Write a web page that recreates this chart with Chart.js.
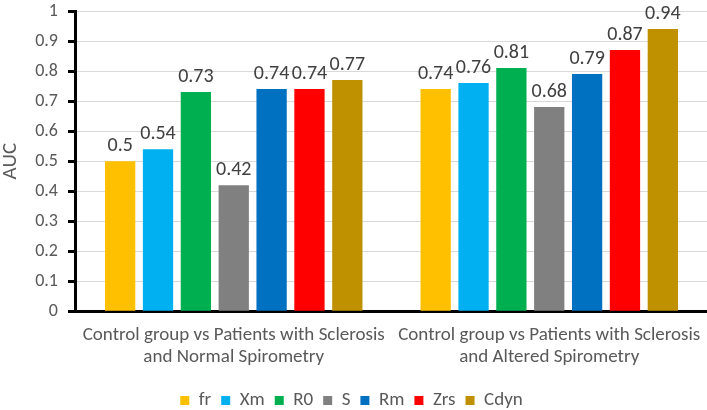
<!DOCTYPE html>
<html>
<head>
<meta charset="utf-8">
<script src="https://cdn.jsdelivr.net/npm/chart.js@4"></script>
<style>
  html, body { margin: 0; padding: 0; background: #fff; }
  #wrap { width: 707px; height: 410px; }
</style>
</head>
<body>
<div id="wrap"><canvas id="auc"></canvas></div>
<script>
const categories = [
  ['Control group vs Patients with Sclerosis', 'and Normal Spirometry'],
  ['Control group vs Patients with Sclerosis', 'and Altered Spirometry']
]
const seriesNames = ['fr', 'Xm', 'R0', 'S', 'Rm', 'Zrs', 'Cdyn']
const fr = [0.5, 0.74]
const xm = [0.54, 0.76]
const r0 = [0.73, 0.81]
const s = [0.42, 0.68]
const rm = [0.74, 0.79]
const zrs = [0.74, 0.87]
const cdyn = [0.77, 0.94]
const seriesColors = ['#FFC000', '#00B0F0', '#00B050', '#808080', '#0070C0', '#FF0000', '#BF9000']

const textGray = '#595959'
const fontes = 'Carlito, Calibri, Lato, sans-serif'

// writes the value above each bar
const valueLabels = {
  id: 'valueLabels',
  afterDatasetsDraw(chart) {
    const ctx = chart.ctx
    ctx.save()
    ctx.fillStyle = '#404040'
    ctx.font = '20px ' + fontes
    ctx.textAlign = 'center'
    ctx.textBaseline = 'bottom'
    chart.data.datasets.forEach((ds, i) => {
      chart.getDatasetMeta(i).data.forEach((bar, j) => {
        ctx.fillText(String(ds.data[j]), bar.x, bar.y - 5)
      })
    })
    ctx.restore()
  }
}

const allSeries = [fr, xm, r0, s, rm, zrs, cdyn]

new Chart(document.getElementById('auc').getContext('2d'), {
  type: 'bar',
  data: {
    labels: categories,
    datasets: allSeries.map((vals, i) => ({
      label: seriesNames[i],
      data: vals,
      backgroundColor: seriesColors[i],
      categoryPercentage: 0.84,
      barPercentage: 0.8
    }))
  },
  options: {
    responsive: true,
    maintainAspectRatio: false,
    animation: false,
    layout: { padding: { top: 0, right: 0, left: -4, bottom: -10 } },
    scales: {
      x: {
        grid: { display: false, drawTicks: false },
        border: { color: '#000', width: 3 },
        // long labels may hang past the plot edges, as in the original
        afterFit: scale => {
          scale.paddingLeft = 0
          scale.paddingRight = 0
        },
        ticks: {
          color: textGray,
          padding: 13,
          maxRotation: 0,
          font: { family: fontes, size: 19, lineHeight: 1.15 }
        }
      },
      y: {
        min: 0,
        max: 1,
        grid: { color: '#d9d9d9', tickColor: '#000', tickLength: 8, tickWidth: 3 },
        border: { color: '#000', width: 3 },
        afterFit: scale => {
          scale.paddingTop = 11
          scale.paddingBottom = 0
        },
        title: {
          display: true,
          text: 'AUC',
          color: textGray,
          padding: 2,
          font: { family: fontes, size: 21 }
        },
        ticks: {
          stepSize: 0.1,
          color: textGray,
          padding: 10,
          font: { family: fontes, size: 18 },
          callback: v => String(Math.round(v * 10) / 10)
        }
      }
    },
    plugins: {
      legend: {
        position: 'bottom',
        labels: {
          boxWidth: 9,
          boxHeight: 9,
          padding: 10,
          color: textGray,
          font: { family: fontes, size: 19 }
        }
      },
      tooltip: { enabled: false }
    }
  },
  plugins: [valueLabels]
})
</script>
</body>
</html>
